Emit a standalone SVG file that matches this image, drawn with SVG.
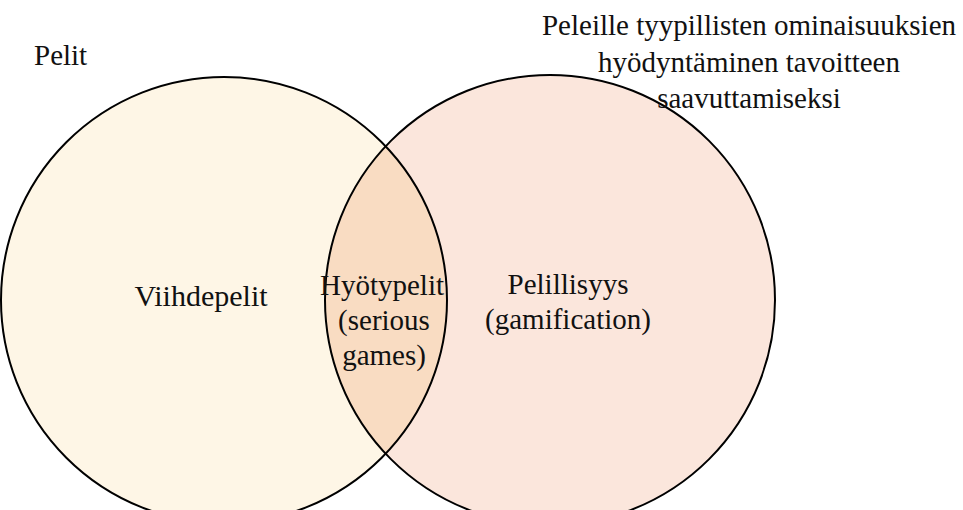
<svg xmlns="http://www.w3.org/2000/svg" width="963" height="510" viewBox="0 0 963 510">
<style>
text{font-family:"Liberation Serif","Times New Roman",serif;font-size:29px;fill:#111}
.c{stroke:#000;stroke-width:2}
</style>
<defs>
<clipPath id="clipL"><circle cx="224" cy="300" r="223"/></clipPath>
</defs>
<rect width="963" height="510" fill="#fff"/>
<g id="circle-viihde"><circle cx="224" cy="300" r="223" fill="#FEF6E6"/></g>
<g id="circle-pelillisyys"><circle cx="550" cy="300" r="225" fill="#FBE6DC"/></g>
<g id="overlap"><circle cx="550" cy="300" r="225" fill="#F9DCC2" clip-path="url(#clipL)"/></g>
<g id="outlines" fill="none">
<circle class="c" cx="224" cy="300" r="223"/>
<circle class="c" cx="550" cy="300" r="225"/>
</g>
<g id="label-pelit"><text x="34" y="65">Pelit</text></g>
<g id="label-top" text-anchor="middle">
<text x="749" y="35">Peleille tyypillisten ominaisuuksien</text>
<text x="749" y="72">hyödyntäminen tavoitteen</text>
<text x="749" y="108">saavuttamiseksi</text>
</g>
<g id="label-viihde"><text x="201" y="306" text-anchor="middle" style="font-size:30px">Viihdepelit</text></g>
<g id="label-hyoty" text-anchor="middle">
<text x="382" y="295">Hyötypelit</text>
<text x="384" y="330">(serious</text>
<text x="384" y="365">games)</text>
</g>
<g id="label-pelillisyys" text-anchor="middle">
<text x="568" y="294">Pelillisyys</text>
<text x="568" y="329">(gamification)</text>
</g>
</svg>
